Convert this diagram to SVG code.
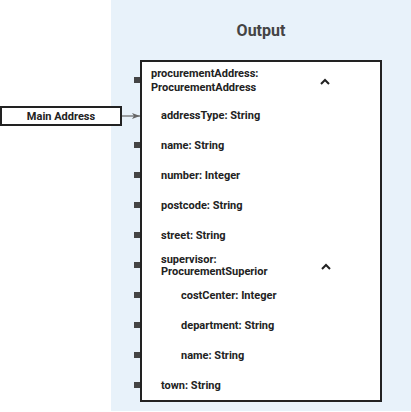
<svg xmlns="http://www.w3.org/2000/svg" width="411" height="412" viewBox="0 0 411 412">
<defs>
<style>
.t{font-family:Roboto,"Liberation Sans",sans-serif;font-size:11px;font-weight:bold;fill:#222}
.port{fill:#444}
.caret{fill:none;stroke:#222;stroke-width:2}
</style>
<marker id="ah" markerWidth="8" markerHeight="6" refX="8" refY="3" orient="auto" markerUnits="userSpaceOnUse">
<path d="M0,0 L8,3 L0,6 L2,3 Z" fill="#666"/>
</marker>
</defs>
<rect x="111" y="0" width="300" height="411" fill="#e8f2fa"/>
<text x="261" y="36" text-anchor="middle" font-family="Roboto,'Liberation Sans',sans-serif" font-size="16" font-weight="bold" fill="#444">Output</text>
<g id="output">
<rect x="141" y="61" width="240" height="340" fill="#fff" stroke="#222" stroke-width="2"/>
<rect class="port" x="134" y="77" width="6" height="6"/>
<text class="t" x="151" y="77">procurementAddress:</text>
<text class="t" x="151" y="91">ProcurementAddress</text>
<path class="caret" d="M321,84 L325,80 L329,84"/>
<text class="t" x="161" y="119">addressType: String</text>
<rect class="port" x="134" y="142" width="6" height="6"/>
<text class="t" x="161" y="149">name: String</text>
<rect class="port" x="134" y="172" width="6" height="6"/>
<text class="t" x="161" y="179">number: Integer</text>
<rect class="port" x="134" y="202" width="6" height="6"/>
<text class="t" x="161" y="209">postcode: String</text>
<rect class="port" x="134" y="232" width="6" height="6"/>
<text class="t" x="161" y="239">street: String</text>
<rect class="port" x="134" y="262" width="6" height="6"/>
<text class="t" x="161" y="263">supervisor:</text>
<text class="t" x="161" y="275">ProcurementSuperior</text>
<path class="caret" d="M322,269 L326,265 L330,269"/>
<rect class="port" x="134" y="292" width="6" height="6"/>
<text class="t" x="181" y="299">costCenter: Integer</text>
<rect class="port" x="134" y="322" width="6" height="6"/>
<text class="t" x="181" y="329">department: String</text>
<rect class="port" x="134" y="352" width="6" height="6"/>
<text class="t" x="181" y="359">name: String</text>
<rect class="port" x="134" y="382" width="6" height="6"/>
<text class="t" x="161" y="389">town: String</text>
</g>
<g id="main-address">
<rect x="1" y="107" width="120" height="18" fill="#fff" stroke="#222" stroke-width="2"/>
<text class="t" x="61" y="120" text-anchor="middle">Main Address</text>
</g>
<g id="connectors">
<line x1="122" y1="116" x2="140" y2="116" stroke="#666" stroke-width="1.2" marker-end="url(#ah)"/>
</g>
</svg>
